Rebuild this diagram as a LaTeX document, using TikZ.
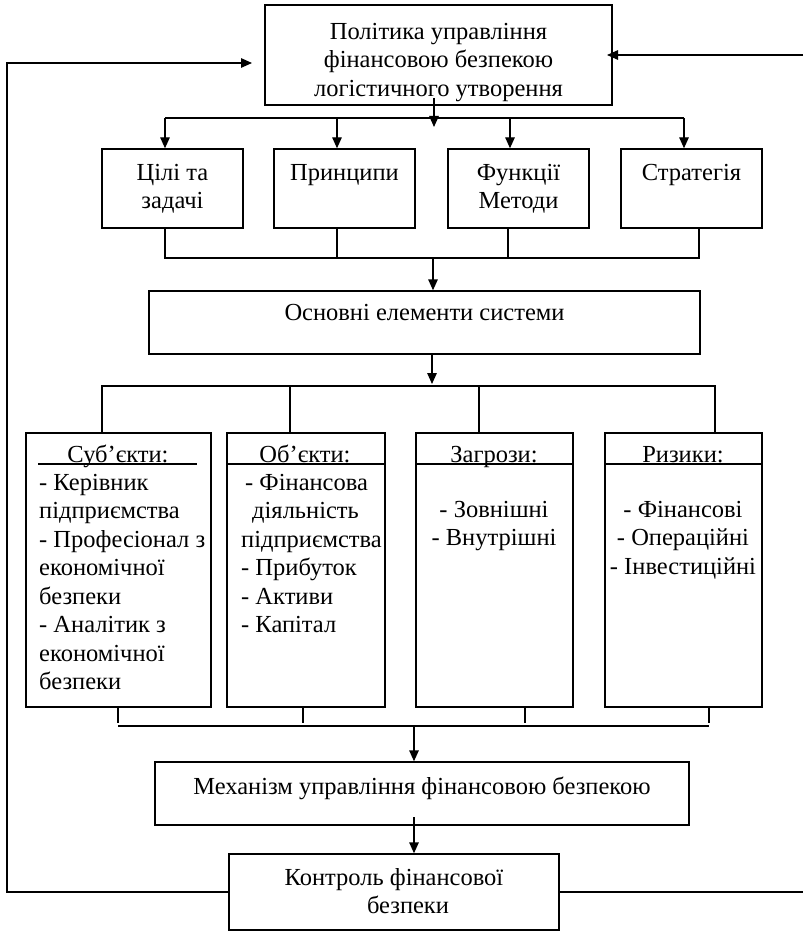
\documentclass[tikz,border=0pt]{standalone}
\usepackage{fontspec}
\setmainfont{Liberation Serif}
\usetikzlibrary{arrows.meta}
\begin{document}
\begin{tikzpicture}[x=1pt,y=-1pt,
  ln/.style={line width=1.4pt,black},
  arr/.style={ln,-{Triangle[length=11pt,width=9.5pt]}},
  box/.style={draw,ln,rectangle,inner sep=0pt,fill=none},
  txt/.style={inner sep=0pt,font=\fontsize{24.5}{28.5}\selectfont,align=center,anchor=north},
  ltxt/.style={inner sep=0pt,font=\fontsize{24.5}{28.5}\selectfont,align=left,anchor=north west}]
\useasboundingbox (0,0) rectangle (803,933);
% boxes
\node[box,minimum width=347pt,minimum height=100pt] (top) at (438.5,55) {};
\node[box,minimum width=141pt,minimum height=79pt] (g1) at (172.5,188.5) {};
\node[box,minimum width=141pt,minimum height=79pt] (g2) at (344.5,188.5) {};
\node[box,minimum width=141pt,minimum height=79pt] (g3) at (518.5,188.5) {};
\node[box,minimum width=141pt,minimum height=79pt] (g4) at (691.5,188.5) {};
\node[box,minimum width=551pt,minimum height=63pt] (osn) at (424.5,322.5) {};
\node[box,minimum width=185pt,minimum height=274pt] (sA) at (118.5,570) {};
\node[box,minimum width=158pt,minimum height=274pt] (sB) at (306,570) {};
\node[box,minimum width=157pt,minimum height=274pt] (sC) at (494.5,570) {};
\node[box,minimum width=157pt,minimum height=274pt] (sD) at (683.5,570) {};
\node[box,minimum width=534pt,minimum height=63pt] (mech) at (422,793.5) {};
\node[box,minimum width=330pt,minimum height=76pt] (ctrl) at (394,892) {};
% texts
\node[txt] (ttop) at (438.5,19) {\strut Політика управління\\\strut фінансовою безпекою\\\strut логістичного утворення};
\node[txt] (tg1) at (172.5,160) {\strut Цілі та\\\strut задачі};
\node[txt] (tg2) at (344.5,160) {\strut Принципи};
\node[txt] (tg3) at (518.5,160) {\strut Функції\\\strut Методи};
\node[txt] (tg4) at (691.5,160) {\strut Стратегія};
\node[txt] (tosn) at (424.5,300) {\strut Основні елементи системи};
\node[txt] (hA) at (118,442) {\strut Суб’єкти:};
\node[txt] (hB) at (305,442) {\strut Об’єкти:};
\node[txt] (hC) at (494,442) {\strut Загрози:};
\node[txt] (hD) at (683,442) {\strut Ризики:};
\node[ltxt] (cA) at (39,470) {\strut - Керівник\\\strut підприємства\\\strut - Професіонал з\\\strut економічної\\\strut безпеки\\\strut - Аналітик з\\\strut економічної\\\strut безпеки};
\node[ltxt] (cB) at (241,470) {\strut\hspace*{4pt}- Фінансова\\\strut\hspace*{11pt}діяльність\\\strut підприємства\\\strut - Прибуток\\\strut - Активи\\\strut - Капітал};
\node[txt] (cC) at (494,497) {\strut - Зовнішні\\\strut - Внутрішні};
\node[txt] (cD) at (683,497) {\strut - Фінансові\\\strut - Операційні\\\strut - Інвестиційні};
\node[txt] (tmech) at (422,774) {\strut Механізм управління фінансовою безпекою};
\node[txt] (tctrl) at (394,865) {\strut Контроль фінансової\\\strut\hspace*{28pt}безпеки};
% header lines
\draw[ln] (38,464) -- (197,464);
\draw[ln] (sB.west |- 0,464) -- (sB.east |- 0,464);
\draw[ln] (sC.west |- 0,464) -- (sC.east |- 0,464);
\draw[ln] (sD.west |- 0,464) -- (sD.east |- 0,464);
% junction coordinates
\coordinate (s1) at (434,98);
\coordinate (d1) at (434,127);
\coordinate (h1a) at (165,118);
\coordinate (h1b) at (337,118);
\coordinate (h1c) at (510,118);
\coordinate (h1d) at (684,118);
\coordinate (b1a) at (165,258);
\coordinate (b1b) at (337,258);
\coordinate (b1c) at (508,258);
\coordinate (b1d) at (699,258);
\coordinate (m1) at (433,258);
\coordinate (h2a) at (102,386);
\coordinate (h2b) at (290,386);
\coordinate (h2c) at (479,386);
\coordinate (h2d) at (715,386);
\coordinate (b2a) at (118,723);
\coordinate (b2b) at (303,723);
\coordinate (b2c) at (525,723);
\coordinate (b2d) at (709,723);
\coordinate (b2l) at (118,726);
\coordinate (b2r) at (709,726);
\coordinate (m2) at (414,726);
\coordinate (m3) at (414,817);
\coordinate (lt) at (7,63);
\coordinate (lb) at (7,892);
\coordinate (rt) at (803,55);
\coordinate (rb) at (803,892);
% top distribution
\draw[arr] (s1) -- (d1);
\draw[ln] (h1a) -- (h1d);
\draw[arr] (h1a) -- (h1a |- g1.north);
\draw[arr] (h1b) -- (h1b |- g2.north);
\draw[arr] (h1c) -- (h1c |- g3.north);
\draw[arr] (h1d) -- (h1d |- g4.north);
% collect from goals
\draw[ln] (b1a |- g1.south) -- (b1a) -- (b1d) -- (b1d |- g4.south);
\draw[ln] (b1b |- g2.south) -- (b1b);
\draw[ln] (b1c |- g3.south) -- (b1c);
\draw[arr] (m1) -- (m1 |- osn.north);
% second distribution
\draw[arr] (osn.south -| 432,0) -- (432,384);
\draw[ln] (h2a |- sA.north) -- (h2a) -- (h2d) -- (h2d |- sD.north);
\draw[ln] (h2b) -- (h2b |- sB.north);
\draw[ln] (h2c) -- (h2c |- sC.north);
% collect from elements
\draw[ln] (b2a |- sA.south) -- (b2a);
\draw[ln] (b2b |- sB.south) -- (b2b);
\draw[ln] (b2c |- sC.south) -- (b2c);
\draw[ln] (b2d |- sD.south) -- (b2d);
\draw[ln] (b2l) -- (b2r);
\draw[arr] (m2) -- (m2 |- mech.north);
\draw[arr] (m3) -- (m3 |- ctrl.north);
% feedback
\draw[ln] (ctrl.west |- lb) -- (lb) -- (lt) -- ++(232,0) coordinate (lt2);
\draw[arr] (lt) -- (252,63);
\draw[ln] (ctrl.east |- rb) -- (rb);
\draw[arr] (rt) -- (607,55);
\end{tikzpicture}
\end{document}
